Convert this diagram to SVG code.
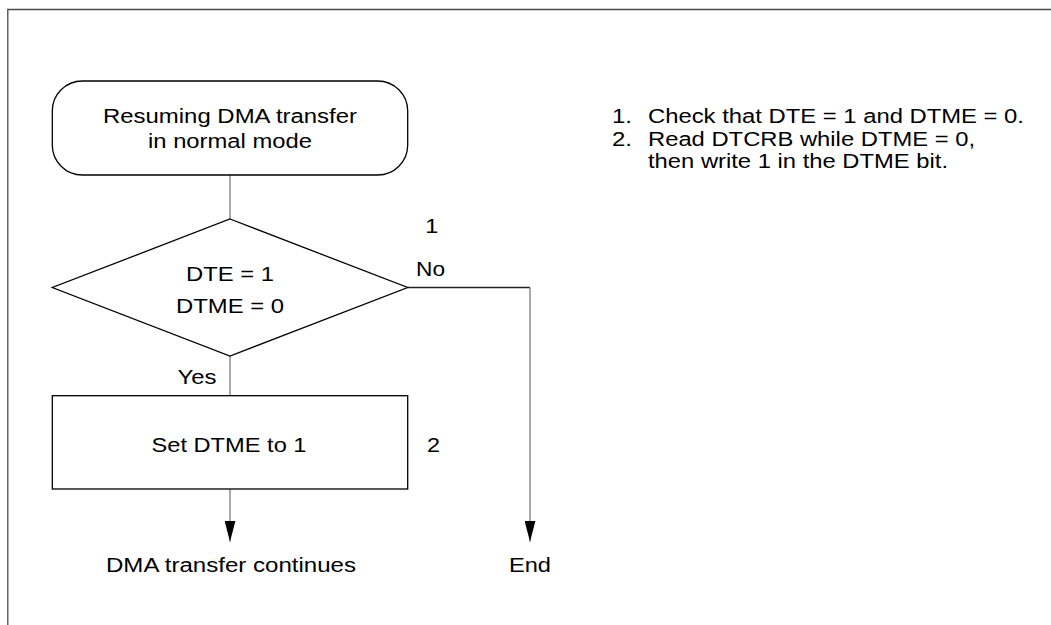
<svg xmlns="http://www.w3.org/2000/svg" width="1051" height="625" viewBox="0 0 1051 625">
  <defs>
    <style>
      .shape { fill: #ffffff; stroke: #000000; stroke-width: 1.3; }
      .conn { fill: none; stroke: #7a7a7a; stroke-width: 1.3; }
      .conn-dark { fill: none; stroke: #222222; stroke-width: 1.3; }
      .frame { fill: none; stroke: #4a4a4a; stroke-width: 1.3; }
      text { font-family: "Liberation Sans", Arial, sans-serif; font-size: 20px; fill: #000000; }
      .c { text-anchor: middle; }
    </style>
    <marker id="arrow" viewBox="0 0 21 11" markerWidth="21" markerHeight="11" refX="21" refY="5.5" orient="auto" markerUnits="userSpaceOnUse">
      <path d="M0,0 L21,5.5 L0,11 Z" fill="#000000"/>
    </marker>
  </defs>

  <g id="frame">
    <path class="frame" d="M7.8,625 L7.8,9.5 L1051,9.5"/>
  </g>

  <g id="connectors">
    <line class="conn" x1="230" y1="175" x2="230" y2="219"/>
    <line class="conn" x1="230" y1="356" x2="230" y2="395.7"/>
    <line class="conn-dark" x1="407.7" y1="287.5" x2="530" y2="287.5"/>
    <line class="conn" x1="530" y1="287.5" x2="530" y2="541.7" marker-end="url(#arrow)"/>
    <line class="conn" x1="230" y1="489" x2="230" y2="541.7" marker-end="url(#arrow)"/>
    <text x="197" y="384" class="c" textLength="39" lengthAdjust="spacingAndGlyphs">Yes</text>
    <text x="416" y="276" textLength="29" lengthAdjust="spacingAndGlyphs">No</text>
  </g>

  <g id="start">
    <rect class="shape" x="52.3" y="81" width="355.4" height="94" rx="30" ry="30"/>
    <text x="230" y="123" class="c" textLength="254" lengthAdjust="spacingAndGlyphs">Resuming DMA transfer</text>
    <text x="230" y="148.3" class="c" textLength="164" lengthAdjust="spacingAndGlyphs">in normal mode</text>
  </g>

  <g id="decision">
    <polygon class="shape" points="230,219 407.7,287.5 230,356 52.3,287.5"/>
    <text x="230" y="281" class="c" textLength="88" lengthAdjust="spacingAndGlyphs">DTE = 1</text>
    <text x="230" y="312.7" class="c" textLength="108" lengthAdjust="spacingAndGlyphs">DTME = 0</text>
    <text x="431.7" y="233" class="c" textLength="13" lengthAdjust="spacingAndGlyphs">1</text>
  </g>

  <g id="set-dtme">
    <rect class="shape" x="52.3" y="395.7" width="355.4" height="93.3"/>
    <text x="229" y="451.7" class="c" textLength="155" lengthAdjust="spacingAndGlyphs">Set DTME to 1</text>
    <text x="433.5" y="451.7" class="c" textLength="13" lengthAdjust="spacingAndGlyphs">2</text>
  </g>

  <g id="continue">
    <text x="231" y="571.7" class="c" textLength="250" lengthAdjust="spacingAndGlyphs">DMA transfer continues</text>
  </g>

  <g id="end">
    <text x="530" y="571.7" class="c" textLength="42" lengthAdjust="spacingAndGlyphs">End</text>
  </g>

  <g id="notes">
    <text x="612" y="123.3" textLength="20" lengthAdjust="spacingAndGlyphs">1.</text>
    <text x="648" y="123.3" textLength="376" lengthAdjust="spacingAndGlyphs">Check that DTE = 1 and DTME = 0.</text>
    <text x="612" y="146" textLength="20" lengthAdjust="spacingAndGlyphs">2.</text>
    <text x="648" y="146" textLength="327" lengthAdjust="spacingAndGlyphs">Read DTCRB while DTME = 0,</text>
    <text x="648" y="168.3" textLength="300" lengthAdjust="spacingAndGlyphs">then write 1 in the DTME bit.</text>
  </g>
</svg>
